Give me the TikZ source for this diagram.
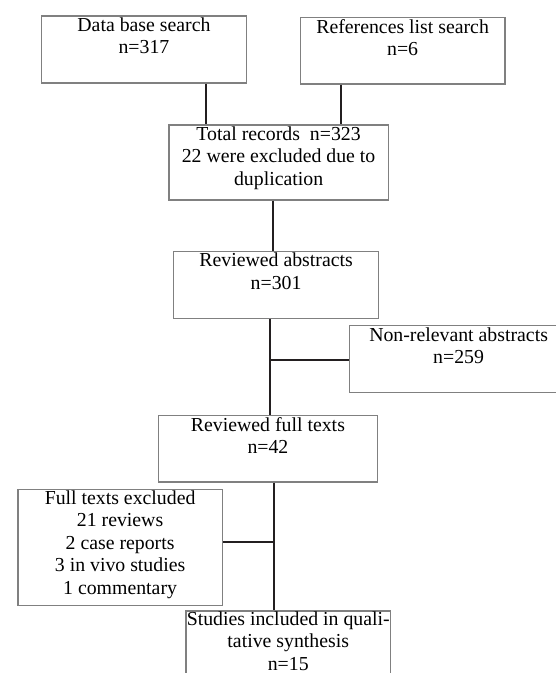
\documentclass[tikz,border=0pt]{standalone}
\usepackage{fontspec}
\setmainfont{Liberation Serif}
\definecolor{boxgray}{RGB}{128,128,128}
\definecolor{linedark}{RGB}{35,31,32}
\tikzset{
  flowbox/.style={draw=boxgray, line width=1.2pt, inner sep=0pt, anchor=north west},
  flowtext/.style={anchor=north, inner sep=0pt, align=center, font=\fontsize{19.8}{22.5}\selectfont},
  link/.style={draw=linedark, line width=1.8pt}
}
\begin{document}
\begin{tikzpicture}[x=1pt,y=-1pt]
\useasboundingbox (0,0) rectangle (556,673);
\clip (0,0) rectangle (556,673);
\fill[white] (0,0) rectangle (556,673);

% boxes
\node[flowbox, minimum width=204.7pt, minimum height=67pt]   (b1)  at (41,15.3) {};
\node[flowbox, minimum width=204.6pt, minimum height=66.6pt] (b2)  at (299.7,16.7) {};
\node[flowbox, minimum width=219.4pt, minimum height=75pt]   (b3)  at (168.3,124.3) {};
\node[flowbox, minimum width=205pt,   minimum height=67pt]   (b4)  at (173,250.7) {};
\node[flowbox, minimum width=218pt,   minimum height=66.7pt] (bNR) at (349,325) {};
\node[flowbox, minimum width=218.7pt, minimum height=66.6pt] (b5)  at (158,414.7) {};
\node[flowbox, minimum width=204.4pt, minimum height=115.7pt] (bFE) at (17.3,489) {};
\node[flowbox, minimum width=204.7pt, minimum height=90pt]   (b6)  at (185.3,610.3) {};

% texts
\node[flowtext] (t1)  at ([yshift=-2.2pt]b1.north)  {Data base search\\n=317};
\node[flowtext] (t2)  at ([yshift=-2.2pt]b2.north)  {References list search\\n=6};
\node[flowtext] (t3)  at ([yshift=-2.2pt]b3.north)  {Total records~ n=323\\22 were excluded due to\\duplication};
\node[flowtext] (t4)  at ([yshift=-2.2pt]b4.north)  {Reviewed abstracts\\n=301};
\node[flowtext] (tNR) at ([yshift=-2.2pt]bNR.north) {Non-relevant abstracts\\n=259};
\node[flowtext] (t5)  at ([yshift=-2.2pt]b5.north)  {Reviewed full texts\\n=42};
\node[flowtext] (tFE) at ([yshift=-1.5pt]bFE.north) {Full texts excluded\\21 reviews\\2 case reports\\3 in vivo studies\\1 commentary};
\node[flowtext] (t6)  at ([yshift=-1pt]b6.north)    {Studies included in quali-\\tative synthesis\\n=15};

% connector positions
\coordinate (c1) at (206,0);
\coordinate (c2) at (341,0);
\coordinate (c3) at (272.7,0);
\coordinate (c4) at (270,0);
\coordinate (c5) at (274,0);
\coordinate (j1) at (270,360);
\coordinate (j2) at (274,542.3);

\draw[link] (b1.south -| c1) -- (b3.north -| c1);
\draw[link] (b2.south -| c2) -- (b3.north -| c2);
\draw[link] (b3.south -| c3) -- (b4.north -| c3);
\draw[link] (b4.south -| c4) -- (b5.north -| c4);
\draw[link] (j1) -- (j1 -| bNR.west);
\draw[link] (b5.south -| c5) -- (b6.north -| c5);
\draw[link] (j2) -- (j2 -| bFE.east);
\end{tikzpicture}
\end{document}
